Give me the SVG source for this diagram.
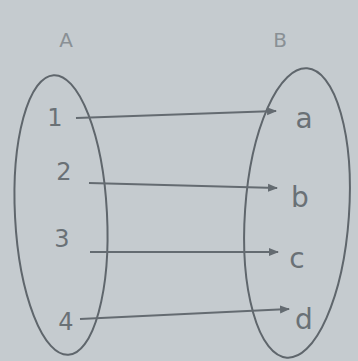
<svg xmlns="http://www.w3.org/2000/svg" width="358" height="361" viewBox="0 0 358 361">
<defs>
<style>
.set{fill:none;stroke:#5f666c;stroke-width:2}
.lbl{font-family:"DejaVu Sans",sans-serif;fill:#6a7176;font-size:24px;text-anchor:middle}
.let{font-family:"DejaVu Sans",sans-serif;fill:#6a7176;font-size:28px;text-anchor:middle}
.hd{font-family:"DejaVu Sans",sans-serif;fill:#8a9095;font-size:20px;text-anchor:middle}
.arr{stroke:#646b71;stroke-width:2;fill:none;marker-end:url(#ah)}
</style>
<marker id="ah" viewBox="0 0 10 10" refX="9" refY="5" markerWidth="5" markerHeight="5" orient="auto">
<path d="M0,1 L10,5 L0,9 z" fill="#646b71"/>
</marker>
</defs>
<rect width="358" height="361" fill="#c5cbcf"/>
<g id="setA">
<ellipse class="set" cx="61" cy="215" rx="46" ry="140" transform="rotate(-3 61 215)"/>
<text class="hd" x="66" y="47">A</text>
</g>
<g id="setB">
<ellipse class="set" cx="297" cy="213" rx="52" ry="145" transform="rotate(4 297 213)"/>
<text class="hd" x="280" y="47">B</text>
</g>
<g id="n1"><text class="lbl" x="55" y="126">1</text></g>
<g id="n2"><text class="lbl" x="64" y="180">2</text></g>
<g id="n3"><text class="lbl" x="62" y="247">3</text></g>
<g id="n4"><text class="lbl" x="66" y="330">4</text></g>
<g id="na"><text class="let" x="304" y="128">a</text></g>
<g id="nb"><text class="let" x="300" y="207">b</text></g>
<g id="nc"><text class="let" x="297" y="268">c</text></g>
<g id="nd"><text class="let" x="304" y="329">d</text></g>
<g id="connectors">
<path class="arr" d="M76,118 L276,111"/>
<path class="arr" d="M89,183 L277,188"/>
<path class="arr" d="M90,252 L278,252"/>
<path class="arr" d="M80,319 L289,309"/>
</g>
</svg>
